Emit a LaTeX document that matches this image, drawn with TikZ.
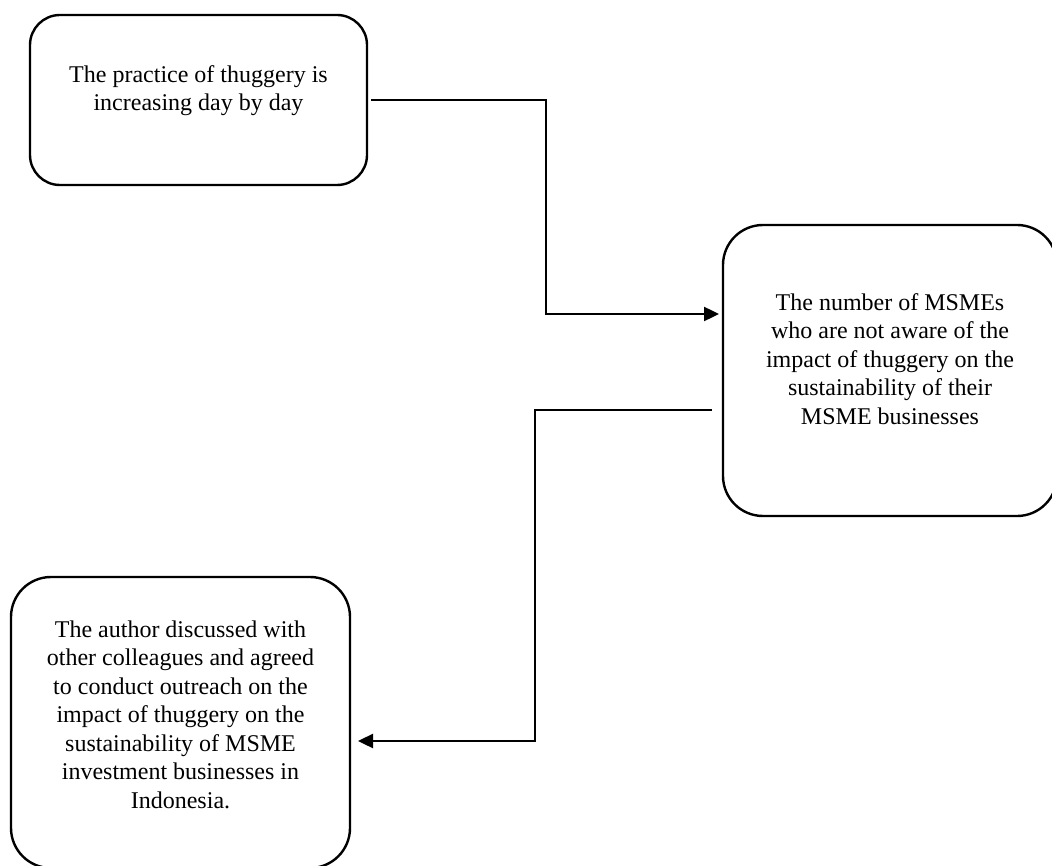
\documentclass[tikz,border=0pt]{standalone}
\usepackage{fontspec}
\setmainfont{Liberation Serif}
\usetikzlibrary{arrows.meta}
\tikzset{
  box/.style={draw=black,line width=2.4pt,inner sep=0pt,outer sep=0pt},
  boxtext/.style={inner sep=0pt,outer sep=0pt,anchor=north,align=center,font=\fontsize{24}{28.5}\selectfont},
  flow/.style={draw=black,line width=2.4pt,-{Triangle[length=15pt,width=14pt]}}
}
\begin{document}
\begin{tikzpicture}[x=1pt,y=-1pt]
\path[use as bounding box] (0,0) rectangle (1052,866);
\node[box,rounded corners=30pt,minimum width=337pt,minimum height=170pt] (practice) at (198.5,100) {};
\node[box,rounded corners=40pt,minimum width=334pt,minimum height=291pt] (awareness) at (890,370.5) {};
\node[box,rounded corners=40pt,minimum width=339pt,minimum height=291pt] (outreach) at (180.5,722.5) {};
\node[boxtext] (practicetext) at (198.5,65.5) {The practice of thuggery is\\increasing day by day};
\node[boxtext] (awarenesstext) at (890,293.5) {The number of MSMEs\\who are not aware of the\\impact of thuggery on the\\sustainability of their\\MSME businesses};
\node[boxtext] (outreachtext) at (180.5,620.5) {The author discussed with\\other colleagues and agreed\\to conduct outreach on the\\impact of thuggery on the\\sustainability of MSME\\investment businesses in\\Indonesia.};
\coordinate (bendA) at (546,314);
\coordinate (bendB) at (535,410);
\coordinate (bendC) at (535,741);
\draw[flow,shorten <=4pt,shorten >=4pt] (practice.east) -| (bendA) -- (bendA -| awareness.west);
\draw[flow,shorten <=11pt,shorten >=8pt] (bendB -| awareness.west) -- (bendB) -- (bendC) -- (bendC -| outreach.east);
\end{tikzpicture}
\end{document}
